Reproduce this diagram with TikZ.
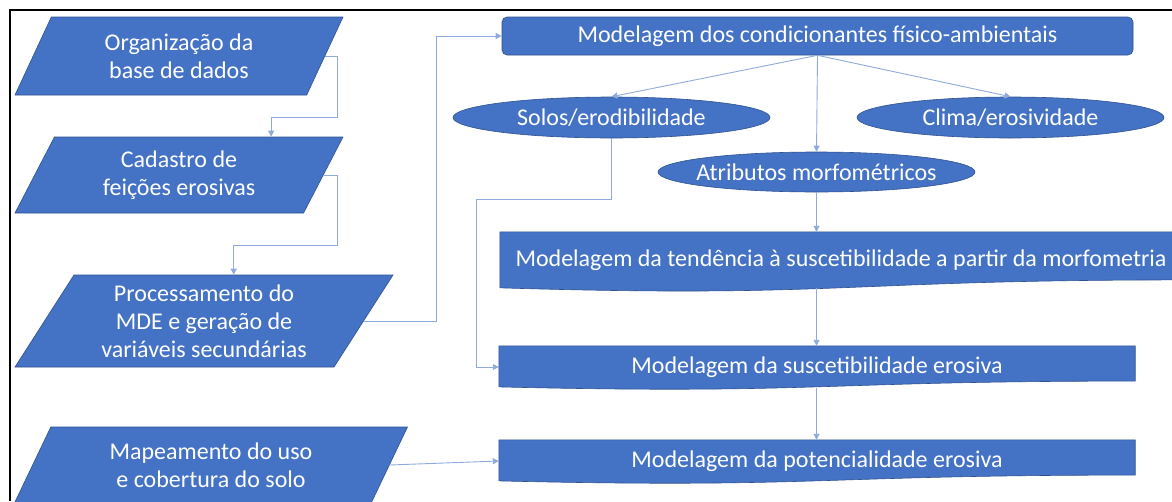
\documentclass[tikz,border=0pt]{standalone}
\usepackage{fontspec}
\setmainfont{Carlito}
\usetikzlibrary{shapes.geometric,arrows.meta,calc,backgrounds}

\definecolor{azul}{RGB}{68,114,196}
\definecolor{azulborda}{RGB}{47,82,143}
\definecolor{azullinha}{RGB}{143,170,220}

\tikzset{
  entrada/.style={trapezium, trapezium left angle=51, trapezium right angle=129,
    trapezium stretches body, fill=azul, draw=azulborda, line width=0.6pt,
    text=white, align=center, inner sep=0pt, font=\fontsize{24}{28}\selectfont},
  fator/.style={ellipse, fill=azul, draw=azulborda, line width=0.6pt, text=white,
    inner xsep=-20pt, inner ysep=0pt, minimum height=41pt, font=\fontsize{24}{28}\selectfont},
  etapa/.style={rectangle, text=white, inner sep=0pt, font=\fontsize{24}{28}\selectfont},
  doc/.style={fill=azul, draw=azulborda, line width=0.6pt},
  liga/.style={draw=azullinha, line width=0.9pt, -{Triangle[length=6pt,width=6pt]}},
}

% caixa com base ondulada (documento)
\newcommand{\documento}[2]{%
  \path[doc] (#1.north west) -- (#1.north east)
    -- ([yshift=-0.802*#2]#1.north east)
    .. controls ([yshift=-0.802*#2]#1.north) and ([yshift=-1.107*#2]#1.north)
    .. ([yshift=-0.934*#2]#1.north west) -- cycle;}

\begin{document}
\begin{tikzpicture}[x=1pt, y=-1pt]
\useasboundingbox (0,0) rectangle (1172,501);

% entradas
\node[entrada, minimum width=328pt, minimum height=78pt] (org) at (179,56) {Organização da\\base de dados};
\node[entrada, minimum width=328pt, minimum height=76pt] (cad) at (179,175) {Cadastro de\\feições erosivas};
\node[entrada, minimum width=378pt, minimum height=92pt] (proc) at (204,321) {Processamento do\\MDE e geração de\\variáveis secundárias};
\node[entrada, minimum width=393pt, minimum height=76pt] (map) at (211,465) {Mapeamento do uso\\e cobertura do solo};

% modelagem
\node[etapa, fill=azul, draw=azulborda, line width=0.6pt, rounded corners=5pt,
  minimum width=631pt, minimum height=38pt] (condic) at (817.5,36) {Modelagem dos condicionantes físico-ambientais};
\node[fator, minimum width=317pt] (solos) at (611.5,117.5) {Solos/erodibilidade};
\node[fator, minimum width=307pt] (clima) at (1010.5,117.5) {Clima/erosividade};
\node[fator, minimum width=317pt, minimum height=40pt] (atrib) at (816.5,172) {Atributos morfométricos};
\node[etapa, minimum width=682pt, minimum height=56pt] (tend) at (841,260) {Modelagem da tendência à suscetibilidade a partir da morfometria};
\node[etapa, minimum width=636pt, minimum height=42pt] (susc) at (817,367) {Modelagem da suscetibilidade erosiva};
\node[etapa, minimum width=636pt, minimum height=42pt] (pot) at (817,461) {Modelagem da potencialidade erosiva};

\begin{scope}[on background layer]
\documento{tend}{60pt}
\documento{susc}{44pt}
\documento{pot}{44pt}
\end{scope}

% ligacoes
\draw[liga] (org.right side) -| (337,117) -| ($(cad.top left corner)!0.75!(cad.top right corner)$);
\draw[liga] (cad.right side) -| (337,245) -| (proc.top side);
\draw[liga] (proc.right side) -- ++(73,0) |- (condic.west);
\draw[liga] (map.right side) -- (pot.west);
\draw[liga] (condic.south) -- (solos.north);
\draw[liga] (condic.south) -- (clima.north);
\draw[liga] (condic.south) -- (atrib.north);
\draw[liga] (atrib.south) -- (atrib.south |- tend.north);
\draw[liga] (atrib.south |- tend.south) -- (atrib.south |- susc.north);
\draw[liga] (atrib.south |- susc.south) -- (atrib.south |- pot.north);
\draw[liga] (solos.south) |- (476,199) |- (susc.west);

% moldura
\draw[black, line width=2pt] (10,501) -- (10,10) -- (1172,10);
\end{tikzpicture}
\end{document}
